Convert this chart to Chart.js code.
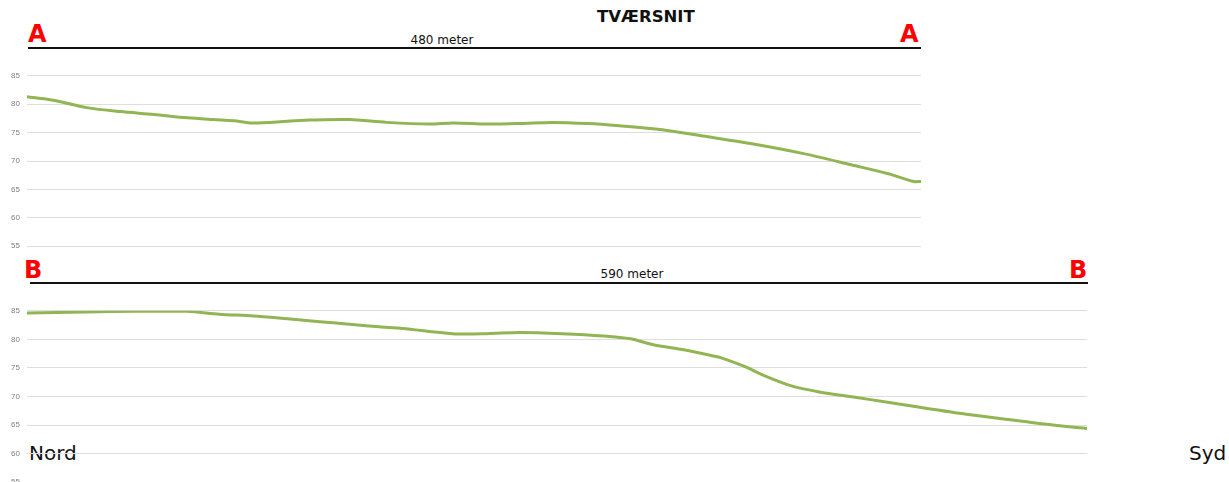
<!DOCTYPE html>
<html>
<head>
<meta charset="utf-8">
<script src="https://cdn.jsdelivr.net/npm/chart.js@4.4.0/dist/chart.umd.min.js"></script>
<style>
    html, body { margin: 0; padding: 0; background: #fff; overflow: hidden; }
    body { width: 1229px; height: 482px; position: relative; font-family: "DejaVu Sans", Verdana, sans-serif; }
    .box { position: absolute; }
    .title { position: absolute; top: 7px; left: 597px; font-weight: bold; font-size: 16.5px; color: #111; }
    .mark { position: absolute; color: #ff0000; font-weight: bold; font-size: 24px; line-height: 24px; }
    .rule { position: absolute; height: 2px; background: #111; }
    .len { position: absolute; font-size: 12px; color: #111; transform: translateX(-50%); }
    .dir { position: absolute; font-size: 20px; color: #111; line-height: 20px; }
</style>
</head>
<body>
<div class="title">TVÆRSNIT</div>

<div class="mark" style="left:28px; top:22px;">A</div>
<div class="mark" style="left:900px; top:22px;">A</div>
<div class="rule" style="left:28px; top:47px; width:893px;"></div>
<div class="len" style="left:442px; top:33px;">480 meter</div>

<div class="mark" style="left:24px; top:258px;">B</div>
<div class="mark" style="left:1069px; top:258px;">B</div>
<div class="rule" style="left:30px; top:282px; width:1058px;"></div>
<div class="len" style="left:632px; top:267px;">590 meter</div>

<div class="dir" style="left:29px; top:443px;">Nord</div>
<div class="dir" style="left:1189px; top:443px;">Syd</div>

<div class="box" style="left:0; top:64px;"><canvas id="chartA" width="930" height="194"></canvas></div>
<div class="box" style="left:0; top:299px;"><canvas id="chartB" width="1096" height="195"></canvas></div>

<script>
// profile A-A (distance in meters, elevation)
const distA = [0, 14, 32, 50, 68, 86, 100, 111, 121, 140, 152, 173, 193, 216, 229, 247, 265, 282, 301, 318, 341, 363, 390, 417, 443, 462, 476, 480];
const elevA = [81.3, 80.7, 79.4, 78.7, 78.2, 77.6, 77.3, 77.1, 76.7, 77.0, 77.2, 77.3, 76.8, 76.5, 76.7, 76.5, 76.6, 76.8, 76.6, 76.2, 75.5, 74.4, 73.0, 71.3, 69.3, 67.8, 66.4, 66.4];

// profile B-B
const distB = [0, 33, 61, 89, 107, 126, 145, 163, 181, 196, 209, 237, 256, 274, 298, 321, 336, 348, 367, 382, 386, 399, 410, 425, 441, 460, 479, 497, 525, 553, 571, 590];
const elevB = [84.6, 84.8, 84.9, 84.9, 84.4, 84.1, 83.6, 83.1, 82.6, 82.2, 81.9, 81.0, 81.0, 81.2, 81.0, 80.6, 80.1, 79.1, 78.1, 77.1, 76.8, 75.3, 73.7, 71.9, 70.8, 69.9, 69.0, 68.1, 66.8, 65.7, 65.0, 64.4];

const yTicks = [55, 60, 65, 70, 75, 80, 85];
const lineColor = '#92b554';

function makeProfile(id, dist, elev, padTop, padBottom) {
    const ctx = document.getElementById(id).getContext('2d');
    return new Chart(ctx, {
        type: 'line',
        data: {
            datasets: [{
                data: dist.map((d, i) => ({ x: d, y: elev[i] })),
                borderColor: lineColor,
                borderWidth: 3,
                pointRadius: 0,
                tension: 0.3,
                fill: false
            }]
        },
        options: {
            responsive: false,
            animation: false,
            layout: { padding: { top: padTop, bottom: padBottom, right: 9, left: 0 } },
            plugins: { legend: { display: false }, tooltip: { enabled: false } },
            scales: {
                x: {
                    type: 'linear',
                    min: 0,
                    max: dist[dist.length - 1],
                    display: false
                },
                y: {
                    min: yTicks[0],
                    max: yTicks[yTicks.length - 1],
                    afterBuildTicks: s => { s.ticks = yTicks.map(v => ({ value: v })); },
                    afterFit: s => { s.width = 27; },
                    border: { display: false },
                    grid: { color: '#dedede', lineWidth: 1, drawTicks: false },
                    ticks: {
                        padding: 7,
                        color: '#808080',
                        font: { family: 'Liberation Sans', size: 8 }
                    }
                }
            }
        }
    });
}

makeProfile('chartA', distA, elevA, 10, 8);
makeProfile('chartB', distB, elevB, 10, 9);
</script>
</body>
</html>
